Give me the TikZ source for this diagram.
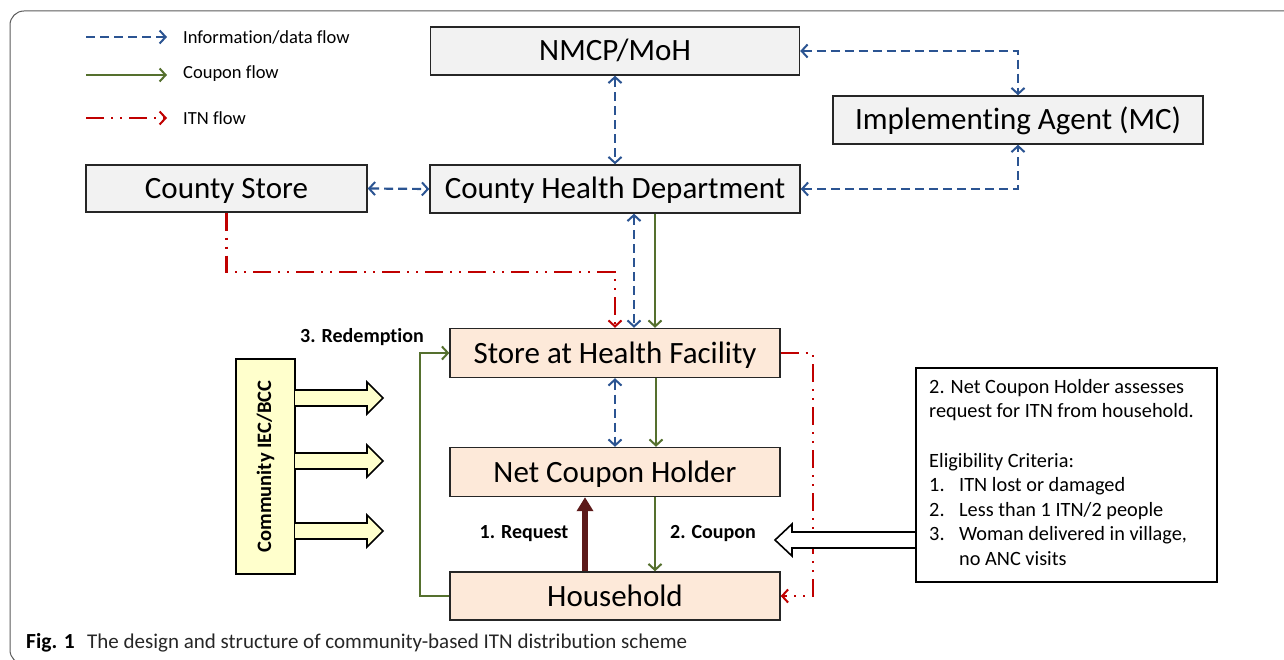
\documentclass[tikz,border=0pt]{standalone}
\usepackage{fontspec}
\setmainfont{Carlito}[Ligatures=NoCommon]
\usetikzlibrary{arrows.meta}
\definecolor{infob}{HTML}{2B5492}
\definecolor{coupg}{HTML}{55702E}
\definecolor{itnr}{HTML}{C00000}
\definecolor{reqm}{HTML}{5C1A1A}
\definecolor{greyfill}{HTML}{F2F2F2}
\definecolor{peach}{HTML}{FDE9D9}
\definecolor{paleyel}{HTML}{FFFFCC}
\definecolor{framegray}{HTML}{5A5A5A}
\begin{document}
\begin{tikzpicture}[x=1pt,y=-1pt,
  topbox/.style={draw=black!85,line width=1.4pt,fill=greyfill,inner sep=0pt,text height=24pt,text depth=4pt,font=\fontsize{31}{36}\selectfont},
  lowbox/.style={draw=black!85,line width=1.4pt,fill=peach,inner sep=0pt,text height=24pt,text depth=4pt,font=\fontsize{31}{36}\selectfont},
  barb/.tip={Straight Barb[length=6,width=13,line width=2pt]},
  info/.style={draw=infob,line width=2.2pt,dash pattern=on 9pt off 5pt,barb-barb},
  infoone/.style={draw=infob,line width=2.2pt,dash pattern=on 9pt off 5pt,-barb},
  coup/.style={draw=coupg,line width=2pt,-barb},
  itn/.style={draw=itnr,line width=2.3pt,dash pattern=on 18pt off 7pt on 2pt off 7pt on 2pt off 7pt,-barb},
  req/.style={draw=reqm,line width=5.5pt,-{Triangle[length=14,width=16]}},
  lbl/.style={font=\fontsize{20}{24}\selectfont\bfseries,inner sep=0pt},
  legtxt/.style={font=\fontsize{18.5}{22}\selectfont,inner sep=0pt,anchor=west},
  eltxt/.style={font=\fontsize{20.3}{24}\selectfont,inner sep=0pt,anchor=base west},
  blockarrow/.style={draw=black,line width=1.6pt,line join=miter}
]
\useasboundingbox (0,0) rectangle (1284,660);
% frame
\draw[framegray,line width=1pt,rounded corners=14] (1300,11) -- (10,11) -- (10,664) -- (40,664);

% legend
\coordinate (la1) at (86,37); \coordinate (lb1) at (167,37);
\coordinate (la2) at (86,75); \coordinate (lb2) at (167,75);
\coordinate (la3) at (86,118); \coordinate (lb3) at (167,118);
\draw[infoone] (la1) -- (lb1);
\draw[coup] (la2) -- (lb2);
\draw[itn] (la3) -- (lb3);
\node[legtxt] (lt1) at (183,37) {Information/data flow};
\node[legtxt] (lt2) at (183,74) {Coupon flow};
\node[legtxt] (lt3) at (183,118) {ITN flow};

% boxes
\node[topbox,minimum width=369,minimum height=48] (nmcp) at (615,51) {NMCP/MoH};
\node[topbox,minimum width=370,minimum height=48] (ia) at (1018,120) {Implementing Agent (MC)};
\node[topbox,minimum width=281,minimum height=47] (cstore) at (226.5,188.5) {County Store};
\node[topbox,minimum width=370,minimum height=48] (chd) at (615,189) {County Health Department};
\node[lowbox,minimum width=330,minimum height=49] (shf) at (615,353) {Store at Health Facility};
\node[lowbox,minimum width=330,minimum height=49] (nch) at (615,472) {Net Coupon Holder};
\node[lowbox,minimum width=330,minimum height=48] (hh) at (615,596) {Household};
\node[draw=black,line width=1.6pt,fill=paleyel,minimum width=59,minimum height=215,inner sep=0pt] (iec) at (265.5,466.5) {};
\node[rotate=90,font=\fontsize{20.5}{24}\selectfont\bfseries,inner sep=0pt] (iect) at (iec.center) {Community IEC/BCC};
\node[draw=black,line width=2.4pt,minimum width=301,minimum height=214,inner sep=0pt] (elig) at (1066.5,475) {};

% eligibility text
\node[eltxt] (e1) at (929,393) {2. Net Coupon Holder assesses};
\node[eltxt] (e2) at (929,417.5) {request for ITN from household.};
\node[eltxt] (e3) at (929,467.5) {Eligibility Criteria:};
\node[eltxt] (e4n) at (929,491.5) {1.};
\node[eltxt] (e4) at (959,491.5) {ITN lost or damaged};
\node[eltxt] (e5n) at (929,516.5) {2.};
\node[eltxt] (e5) at (959,516.5) {Less than 1 ITN/2 people};
\node[eltxt] (e6n) at (929,540.5) {3.};
\node[eltxt] (e6) at (959,540.5) {Woman delivered in village,};
\node[eltxt] (e7) at (959,565.5) {no ANC visits};

% labels
\node[lbl] (redm) at (362,337) {3. Redemption};
\node[lbl] (reql) at (524,534) {1. Request};
\node[lbl] (coul) at (713,534) {2. Coupon};

% information flows
\draw[info] (nmcp.south) -- (chd.north);
\draw[info] (nmcp.east) -| (ia.north);
\draw[info] (chd.east) -| (ia.south);
\draw[info] (cstore.east) -- (chd.west);
\draw[info] ([xshift=19]chd.south) -- ([xshift=19]shf.north);
\draw[info] (shf.south) -- (nch.north);

% coupon flows
\draw[coup] ([xshift=40]chd.south) -- ([xshift=40]shf.north);
\draw[coup] ([xshift=41]shf.south) -- ([xshift=41]nch.north);
\draw[coup] ([xshift=40]nch.south) -- ([xshift=40]hh.north);
\draw[coup] (hh.west) -- ++(-29,0) |- (shf.west);

% ITN flows
\coordinate (rj) at (615,272);
\draw[itn] (cstore.south) |- (rj) -- (shf.north);
\draw[itn] (shf.east) -- ++(32,0) |- (hh.east);

% request
\draw[req] ([xshift=-30]hh.north) -- ([xshift=-30]nch.south);

% block arrows from IEC
\foreach \yy in {398,461,531}{
  \draw[blockarrow,fill=paleyel] (295,\yy-8) -- (367,\yy-8) -- (367,\yy-16) -- (383,\yy) -- (367,\yy+16) -- (367,\yy+8) -- (295,\yy+8);
}
% block arrow from eligibility box
\draw[blockarrow,fill=white] (elig.west |- 0,532) -- (792,532) -- (792,524) -- (775,540) -- (792,556) -- (792,548) -- (elig.west |- 0,548);

% caption
\node[anchor=base west,inner sep=0pt,font=\fontsize{21.5}{24}\selectfont\bfseries] (figl) at (26,648) {Fig. 1};
\node[anchor=base west,inner sep=0pt,font=\fontsize{21}{24}\selectfont,text=black!85] (capt) at (87,648) {The design and structure of community-based ITN distribution scheme};
\end{tikzpicture}
\end{document}
